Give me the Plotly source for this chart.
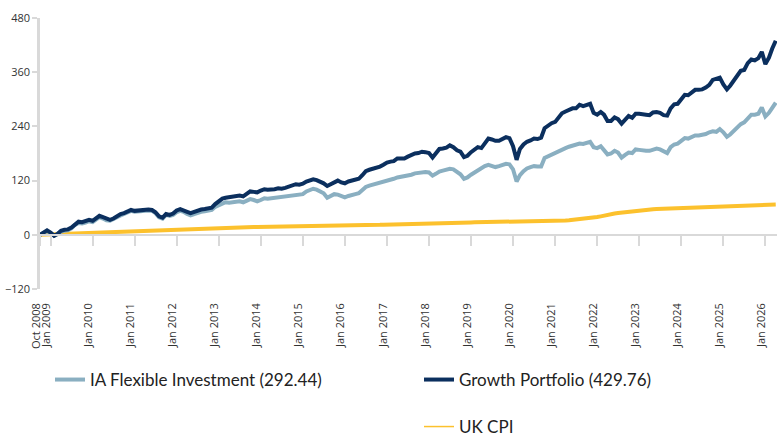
import pandas as pd
import plotly.graph_objects as go

# ---- data (cumulative % performance, monthly) ----
dates = pd.date_range("2008-10-01", periods=211, freq="MS")

growth_portfolio = [
    0, 5, 10, 5, -2, 2, 9, 11, 12, 16,
    24, 29, 28, 30, 33, 31, 36, 42, 39, 35,
    33, 36, 41, 46, 48, 51, 55, 53, 54, 56,
    57, 56, 55, 50, 41, 38, 46, 44, 47, 54,
    57, 55, 51, 48, 51, 54, 56, 57, 59, 60,
    68, 74, 80, 82, 83, 84, 86, 87, 85, 90,
    96, 95, 94, 98, 101, 100, 100, 101, 103, 102,
    104, 106, 110, 112, 111, 113, 118, 121, 123, 121,
    118, 114, 108, 112, 117, 120, 116, 114, 118, 120,
    122, 124, 132, 141, 144, 146, 148, 151, 155, 160,
    162, 163, 169, 169, 169, 173, 177, 180, 181, 184,
    183, 181, 171, 180, 190, 191, 193, 198, 194, 187,
    184, 172, 175, 183, 189, 194, 192, 203, 213, 211,
    208, 208, 212, 216, 214, 196, 166, 190, 200, 206,
    209, 213, 212, 215, 236, 242, 247, 250, 259, 269,
    273, 277, 280, 280, 288, 285, 288, 290, 270, 266,
    272, 266, 252, 252, 260, 256, 246, 255, 263, 259,
    268, 268, 266, 266, 265, 271, 272, 270, 265, 264,
    280, 289, 290, 302, 310, 309, 316, 321, 321, 322,
    326, 332, 343, 345, 348, 333, 322, 330, 341, 352,
    363, 365, 380, 388, 386, 391, 405, 378, 392, 412,
    429.76,
]

ia_flexible = [
    0, 4, 8, 4, -2, 1, 7, 9, 10, 14,
    22, 26, 25, 27, 30, 28, 33, 39, 36, 32,
    31, 34, 39, 43, 46, 49, 53, 51, 52, 54,
    55, 54, 53, 48, 39, 36, 44, 42, 44, 50,
    53, 51, 46, 43, 46, 49, 51, 52, 54, 55,
    62, 66, 70, 72, 71, 72, 73, 74, 72, 76,
    79, 77, 74, 77, 81, 80, 81, 82, 83, 82,
    84, 86, 87, 88, 88, 90, 96, 100, 102, 100,
    96, 92, 82, 86, 90, 89, 86, 83, 86, 89,
    90, 92, 99, 106, 109, 111, 114, 116, 119, 121,
    123, 124, 127, 128, 129, 131, 133, 136, 137, 139,
    139, 138, 131, 135, 140, 142, 144, 146, 145, 140,
    134, 124, 127, 133, 138, 143, 146, 152, 155, 152,
    150, 152, 155, 157, 156, 145, 118, 132, 141, 147,
    150, 152, 151, 151, 170, 174, 177, 180, 185, 190,
    192, 195, 197, 198, 202, 201, 204, 206, 194, 192,
    196, 187, 178, 180, 186, 182, 171, 177, 182, 181,
    189, 188, 186, 186, 186, 189, 191, 189, 186, 181,
    194, 200, 202, 209, 214, 213, 217, 220, 220, 221,
    223, 227, 229, 228, 234, 227, 217, 222, 230, 238,
    245, 249, 259, 266, 266, 268, 282, 262, 270, 282,
    292.44,
]

uk_cpi = [
    0, 0.3, 0.6, 0.6, 1, 1.5, 2, 2.3, 2.6, 3, 3.3, 3.6,
    4, 4.3, 4.6, 4.9, 5.2, 5.5, 5.8, 6.1, 6.4, 6.7, 7, 7.3,
    7.6, 8, 8.3, 8.6, 9, 9.3, 9.6, 10, 10.3, 10.6, 11, 11.3,
    11.6, 11.9, 12.2, 12.5, 12.8, 13.1, 13.4, 13.7, 14, 14.3, 14.5, 14.7,
    14.9, 15.1, 15.3, 15.5, 15.7, 15.9, 16.1, 16.3, 16.5, 16.7, 16.8, 16.9,
    17, 17.1, 17.2, 17.3, 17.4, 17.5, 17.6, 17.7, 17.8, 17.8, 17.9, 17.9,
    18, 18, 18.1, 18.1, 18.2, 18.2, 18.3, 18.4, 18.5, 18.6, 18.7, 18.8,
    18.9, 19.1, 19.3, 19.5, 19.7, 19.9, 20.1, 20.3, 20.6, 20.9, 21.2, 21.5,
    21.8, 22.1, 22.4, 22.7, 23, 23.3, 23.6, 23.8, 24, 24.2, 24.4, 24.6,
    24.8, 25, 25.2, 25.4, 25.6, 25.8, 26, 26.2, 26.4, 26.6, 26.8, 27,
    27.2, 27.3, 27.4, 27.5, 27.6, 27.7, 27.8, 27.9, 28, 28.1, 28.2, 28.3,
    28.4, 28.5, 28.6, 28.7, 28.8, 28.8, 28.8, 28.9, 29, 29.1, 29.2, 29.3,
    29.5, 29.8, 30.1, 30.4, 30.8, 31.3, 31.8, 32.4, 33, 33.6, 34.2, 34.8,
    35.6, 36.6, 37.8, 39.3, 40.8, 42.8, 44.8, 46.3, 47.3, 48.3, 49.3, 50.3,
    51.3, 52.3, 53.3, 54.3, 55.3, 55.8, 56.2, 56.6, 56.9, 57.2, 57.5, 57.8,
    58.1, 58.4, 58.7, 59, 59.3, 59.6, 59.9, 60.2, 60.5, 60.8, 61.1, 61.4,
    61.7, 62, 62.3, 62.6, 62.9, 63.2, 63.5, 63.8, 64.1, 64.4, 64.7, 65,
    65.3, 65.6, 65.9, 66.2, 66.5, 66.8, 67.1,
]

tick_dates = ["2008-10-01"] + [f"{y}-01-01" for y in range(2009, 2027)]
tick_labels = ["Oct 2008"] + [f"Jan {y}" for y in range(2009, 2027)]
y_ticks = [-120, 0, 120, 240, 360, 480]

name_ia = "IA Flexible Investment (292.44)"
name_gp = "Growth Portfolio (429.76)"
name_cpi = "UK CPI"

C_IA = "#8aafc1"
C_GP = "#0b2f5e"
C_CPI = "#fcc12d"

x_range = ["2008-10-01", "2026-04-12"]

fig = go.Figure()
fig.add_trace(go.Scatter(x=dates, y=uk_cpi, mode="lines", name=name_cpi,
                         line=dict(color=C_CPI, width=4), showlegend=False))
fig.add_trace(go.Scatter(x=dates, y=ia_flexible, mode="lines", name=name_ia,
                         line=dict(color=C_IA, width=4), legend="legend"))
fig.add_trace(go.Scatter(x=dates, y=growth_portfolio, mode="lines", name=name_gp,
                         line=dict(color=C_GP, width=4), legend="legend2"))
fig.add_trace(go.Scatter(x=[None], y=[None], mode="lines", name=name_cpi,
                         line=dict(color=C_CPI, width=1.5), legend="legend3"))
fig.add_trace(go.Scatter(x=[dates[0]], y=[None], xaxis="x2", mode="lines",
                         showlegend=False, hoverinfo="skip"))

tick_font = dict(family="Open Sans, sans-serif", size=11, color="#333333")
legend_font = dict(family="Lato, sans-serif", size=17, color="#222222")

# plot area: x 40..777 px, y 18..289 px
def px_x(px):
    return (px - 40) / 737.0

def px_y(py):
    return (289 - py) / 271.0

legend_common = dict(xanchor="left", yanchor="middle", orientation="v",
                     font=legend_font, bgcolor="rgba(0,0,0,0)", borderwidth=0)

fig.update_layout(
    template="none",
    width=781, height=436,
    margin=dict(l=40, r=4, t=18, b=147, pad=0, autoexpand=False),
    paper_bgcolor="white", plot_bgcolor="white",
    xaxis=dict(
        type="date", range=x_range, automargin=False,
        tickvals=tick_dates, ticktext=tick_labels, tickangle=-90,
        ticks="", showline=False, showgrid=False, zeroline=False,
        tickfont=tick_font, ticklabelstandoff=11, ticklabelshift=-4,
    ),
    xaxis2=dict(
        type="date", range=x_range, overlaying="x", anchor="free", position=0.2,
        automargin=False,
        tickvals=tick_dates, showticklabels=False,
        ticks="outside", ticklen=10, tickwidth=2, tickcolor="#d9d9d9",
        showline=True, linecolor="#d9d9d9", linewidth=2,
        showgrid=False, zeroline=False,
    ),
    yaxis=dict(
        range=[-120, 480], tickvals=y_ticks, showgrid=False, zeroline=False,
        automargin=False,
        showline=True, linecolor="#d9d9d9", linewidth=2.5,
        ticks="outside", ticklen=5, tickwidth=1.5, tickcolor="#d9d9d9",
        tickfont=tick_font,
    ),
    legend=dict(x=px_x(50), y=px_y(380), **legend_common),
    legend2=dict(x=px_x(419), y=px_y(380), **legend_common),
    legend3=dict(x=px_x(419), y=px_y(427), **legend_common),
    showlegend=True,
)

fig.write_html(
    "out.html",
    config={"displayModeBar": False},
    post_script="document.body.style.margin='0px';document.body.style.overflow='hidden';",
)
